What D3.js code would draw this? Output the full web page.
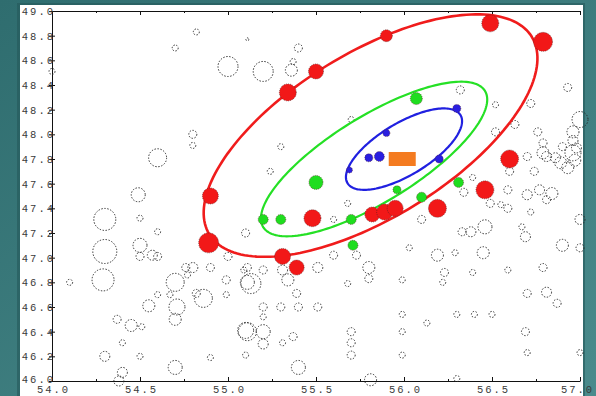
<!DOCTYPE html>
<html><head><meta charset="utf-8">
<script src="https://cdn.jsdelivr.net/npm/d3@7"></script>
<style>html,body{margin:0;padding:0;background:#3b7a7c;} svg{display:block}</style>
</head><body>
<svg id="c" width="596" height="396"></svg>
<script>
// ---- data ----
const xTicks = [54.0, 54.5, 55.0, 55.5, 56.0, 56.5, 57.0];
const yTicks = [46.0, 46.2, 46.4, 46.6, 46.8, 47.0, 47.2, 47.4, 47.6, 47.8, 48.0, 48.2, 48.4, 48.6, 48.8, 49.0];

// open (dotted) circles: [x, y, size]
const openPts = [
 [54.82,48.83,3],[54.70,48.70,3],[54.00,48.51,3],[54.80,48.00,4],[54.80,47.91,3],[54.60,47.81,9],
 [54.49,47.51,7],[54.30,47.31,11],[54.50,47.32,3],[54.60,47.21,3],[54.30,47.05,12],[54.50,47.10,7],
 [54.57,47.02,5],[54.29,46.82,11],[54.50,47.01,4],[54.60,47.01,4],[54.10,46.80,3],[54.76,46.92,4],
 [54.80,46.92,5],[54.90,46.92,4],[54.77,46.86,3],[54.70,46.80,9],[54.82,46.71,4],[54.86,46.67,9],
 [54.67,46.70,3],[54.60,46.70,3],[54.55,46.61,6],[54.71,46.60,8],[54.70,46.50,6],[54.45,46.45,6],
 [54.51,46.44,3],[54.37,46.50,4],[54.40,46.31,3],[54.30,46.20,5],[54.50,46.20,3],[54.70,46.11,7],
 [54.40,46.07,5],[54.38,46.00,5],[55.00,47.01,4],[54.99,46.82,4],[54.99,46.70,3],[55.11,46.80,7],
 [55.09,46.90,3],[55.10,46.41,8],[54.90,46.19,3],[55.10,46.21,3],[55.30,47.90,3],[55.24,47.70,3],
 [55.10,47.20,4],[55.68,47.44,3],[55.60,47.31,3],[55.60,47.02,4],[55.73,47.02,4],[55.51,46.92,5],
 [55.11,46.92,4],[55.20,46.90,4],[55.31,46.90,5],[55.13,46.79,10],[55.34,46.82,6],[55.39,46.71,4],
 [55.80,46.92,6],[55.80,46.83,4],[55.68,46.79,3],[55.20,46.60,4],[55.30,46.60,4],[55.40,46.60,4],
 [55.51,46.60,4],[55.20,46.52,3],[55.11,46.40,9],[55.20,46.40,7],[55.20,46.30,5],[55.31,46.31,3],
 [55.37,46.36,4],[55.40,46.11,7],[55.70,46.40,4],[55.70,46.31,4],[55.70,46.21,4],[55.81,46.01,6],
 [55.99,46.54,3],[55.99,46.40,3],[56.13,46.47,3],[56.30,46.54,3],[56.40,46.54,3],[56.50,46.54,3],
 [55.99,46.21,3],[56.69,46.40,4],[56.70,46.23,3],[56.30,46.02,3],[57.00,46.23,3],[56.87,46.63,4],
 [56.60,47.70,4],[56.70,47.82,4],[56.79,47.85,6],[56.79,47.93,4],[56.90,47.90,4],[56.96,47.95,5],
 [56.96,47.85,8],[56.89,47.77,6],[56.74,47.70,4],[56.59,47.55,4],[56.70,47.51,5],[56.77,47.55,5],
 [56.84,47.52,6],[56.81,47.47,4],[56.49,47.44,4],[56.55,47.43,3],[56.59,47.40,4],[56.39,47.65,3],
 [56.34,47.53,4],[56.10,47.31,4],[56.33,47.21,4],[56.38,47.21,5],[56.46,47.25,7],[56.72,47.37,3],
 [56.67,47.25,3],[56.69,47.17,5],[57.00,47.31,5],[56.90,47.10,6],[57.00,47.08,4],[56.03,47.08,3],
 [56.19,47.02,6],[56.29,47.04,3],[56.45,47.04,6],[56.23,46.88,4],[56.22,46.80,3],[56.39,46.88,3],
 [56.59,46.90,3],[56.79,46.92,4],[55.99,46.82,3],[56.70,46.71,4],[56.81,46.72,5],[56.52,48.24,3],
 [56.52,48.02,4],[56.63,48.08,4],[56.76,48.02,4],[57.00,48.12,8],[56.96,48.02,6],[56.98,47.89,5],
 [56.97,47.79,6],[56.86,47.81,5],[56.93,47.73,6],[56.81,47.82,5],[56.32,48.36,4],[56.72,48.25,4],
 [56.93,48.38,4],[55.00,48.55,10],[55.20,48.51,10],[55.36,48.52,6],[55.37,48.59,3],[55.40,48.70,4],
 [55.70,48.12,3],[55.11,48.77,1.5]
];

const redPts = [
 [56.49,48.90,8.5],[56.79,48.75,9.5],[55.90,48.80,6],[55.50,48.51,7.5],[55.34,48.34,8.5],
 [54.90,47.50,8],[54.89,47.12,10],[55.31,47.01,8],[55.39,46.92,7.5],[55.48,47.32,8.5],
 [55.82,47.35,7.5],[55.89,47.37,8],[55.95,47.40,8],[56.19,47.40,9],[56.46,47.55,9],[56.60,47.80,9]
];
const greenPts = [
 [56.07,48.29,6],[55.50,47.61,7],[55.20,47.31,5],[55.30,47.31,5],[55.70,47.31,5],
 [55.71,47.10,5],[55.96,47.55,4],[56.10,47.49,5],[56.31,47.61,5]
];
const bluePts = [
 [55.80,47.81,4],[55.86,47.82,5],[55.90,48.01,3.5],[56.30,48.21,4],[56.20,47.80,4],[55.69,47.71,3]
];
const meanPt = [55.99, 47.80];

// ellipses: center and two conjugate semi-axis vectors (data units)
const ellCx = [55.81, 55.83, 56.00];
const ellCy = [47.99, 47.80, 47.88];
const ellAx = [0.916, 0.630, 0.321];
const ellAy = [0.801, 0.552, 0.276];
const ellBx = [0.245, 0.128, 0.076];
const ellBy = [-0.570, -0.297, -0.181];

// ---- drawing ----
const svg = d3.select("#c");
const W = 596, H = 396;
const defs = svg.append("defs");
const g1 = defs.append("linearGradient").attr("id","bg").attr("x1","0").attr("y1","0").attr("x2","1").attr("y2","1");
g1.append("stop").attr("offset","0").attr("stop-color","#2f6d6f");
g1.append("stop").attr("offset","1").attr("stop-color","#4a8b8c");
svg.append("rect").attr("width",W).attr("height",H).attr("fill","url(#bg)");
svg.append("rect").attr("x",17).attr("y",3).attr("width",568).attr("height",H).attr("fill","#24585a").attr("opacity",0.6);
svg.append("rect").attr("x",20).attr("y",5).attr("width",563).attr("height",H).attr("fill","#ffffff");

const x = d3.scaleLinear().domain([54, 57]).range([52, 580]);
const y = d3.scaleLinear().domain([46, 49]).range([381, 11]);
const r = d3.scaleLinear().domain([0, 12]).range([0, 12]);

const minorX = d3.range(54.25, 57, 0.5);
const fontCss = "font-family:'Liberation Mono','DejaVu Sans Mono',monospace;font-size:10.5px;letter-spacing:2px;fill:#3a3a3a";

// bottom axis
const gb = svg.append("g").attr("transform",`translate(0,${y(46)})`)
  .call(d3.axisBottom(x).tickValues(xTicks).tickFormat(d3.format(".1f")).tickSizeInner(-4).tickSizeOuter(0).tickPadding(5));
gb.selectAll("text").attr("style",fontCss).attr("dx", d => d === 57 ? "-3px" : "1px");
svg.append("g").attr("transform",`translate(0,${y(46)})`)
  .call(d3.axisBottom(x).tickValues(minorX).tickFormat("").tickSizeInner(-2).tickSizeOuter(0))
  .select(".domain").remove();
// top axis
svg.append("g").attr("transform",`translate(0,${y(49)})`)
  .call(d3.axisTop(x).tickValues(xTicks).tickFormat("").tickSizeInner(-4).tickSizeOuter(0));
svg.append("g").attr("transform",`translate(0,${y(49)})`)
  .call(d3.axisTop(x).tickValues(minorX).tickFormat("").tickSizeInner(-2).tickSizeOuter(0))
  .select(".domain").remove();
// left axis
const gl = svg.append("g").attr("transform",`translate(${x(54)},0)`)
  .call(d3.axisLeft(y).tickValues(yTicks).tickFormat(d3.format(".1f")).tickSizeInner(3).tickSizeOuter(0).tickPadding(-6));
gl.selectAll(".tick line").attr("x1", 3);
gl.selectAll("text").attr("style",fontCss).attr("dy", d => d === 46 ? "0.1em" : "0.32em");
svg.selectAll(".domain").attr("stroke","#111");
svg.selectAll(".tick line").attr("stroke","#111");

// open circles
svg.append("g").selectAll("circle").data(openPts).join("circle")
  .attr("cx", d => x(d[0])).attr("cy", d => y(d[1])).attr("r", d => r(d[2]))
  .attr("fill","none").attr("stroke","#2a2a2a").attr("stroke-width",1)
  .attr("stroke-dasharray","1.4,1.6");

// ellipses
const ellColors = ["#f01c1c", "#25e025", "#2020e0"];
const ellWidths = [2.6, 2.2, 2.2];
const tt = d3.range(0, 2*Math.PI, Math.PI/90);
const line = d3.line().curve(d3.curveLinearClosed);
ellCx.forEach((cx, i) => {
  const pts = tt.map(t => [
    x(cx + ellAx[i]*Math.cos(t) + ellBx[i]*Math.sin(t)),
    y(ellCy[i] + ellAy[i]*Math.cos(t) + ellBy[i]*Math.sin(t))
  ]);
  svg.append("path").attr("d", line(pts)).attr("fill","none")
    .attr("stroke", ellColors[i]).attr("stroke-width", ellWidths[i]);
});

function filled(data, color) {
  svg.append("g").selectAll("circle").data(data).join("circle")
    .attr("cx", d => x(d[0])).attr("cy", d => y(d[1])).attr("r", d => r(d[2]))
    .attr("fill", color).attr("stroke","#552222").attr("stroke-width",0.6)
    .attr("stroke-dasharray","1,1");
}
filled(redPts, "#f21818");
filled(greenPts, "#1fdd1f");
filled(bluePts, "#2a1fe0");

// mean marker
svg.append("rect").attr("x", x(meanPt[0]) - 13.5).attr("y", y(meanPt[1]) - 7)
  .attr("width", 27).attr("height", 14).attr("fill", "#f47b20");
</script>
</body></html>
